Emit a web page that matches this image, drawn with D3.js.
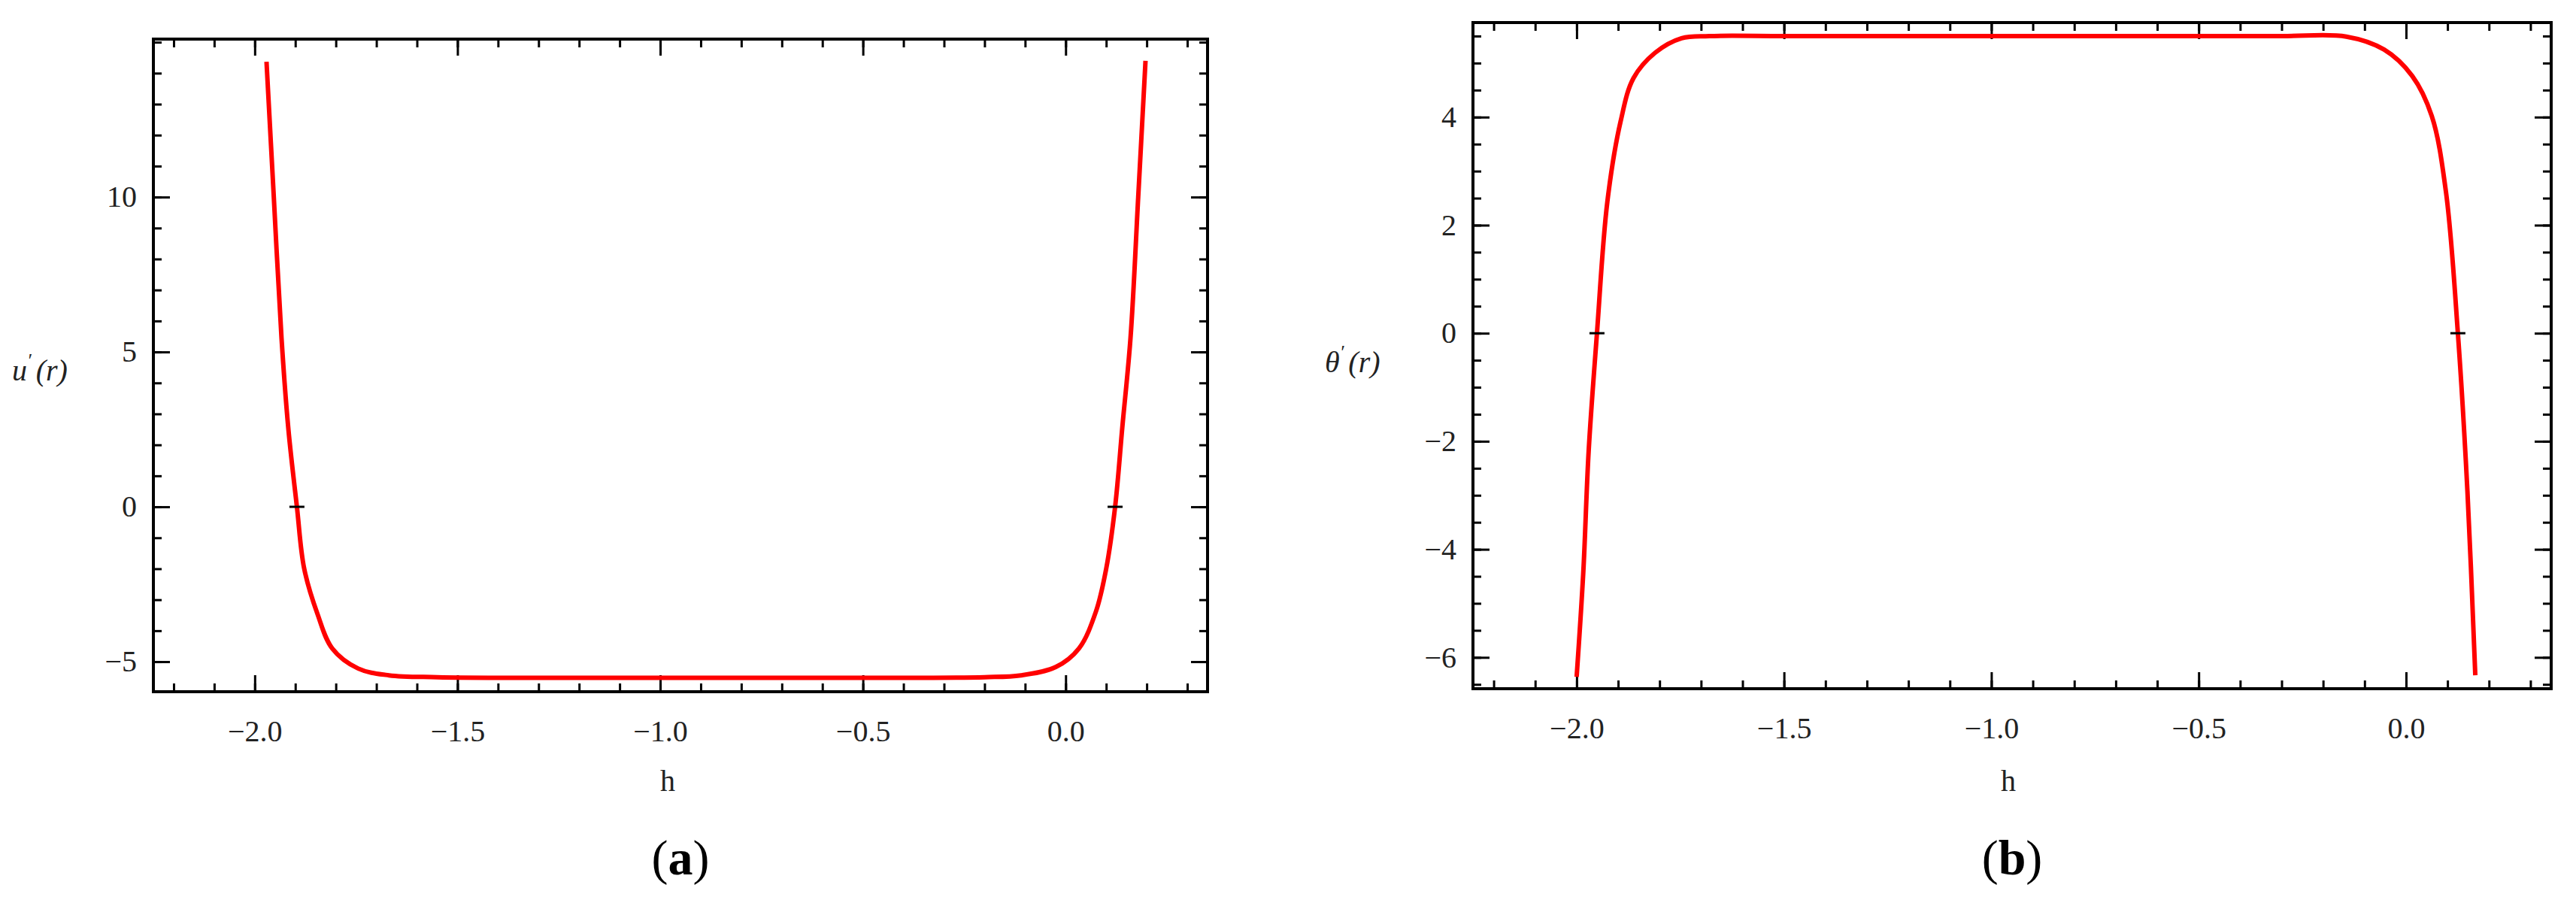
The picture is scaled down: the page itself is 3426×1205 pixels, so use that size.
<!DOCTYPE html>
<html>
<head>
<meta charset="utf-8">
<script src="https://cdn.jsdelivr.net/npm/d3@7"></script>
<style>
  body { margin: 0; background: #fff; }
  text { font-family: "Liberation Serif", serif; }
</style>
</head>
<body>
<svg id="chart" width="3426" height="1205"></svg>
<script>
// values
let xDomain = [-2.25, 0.35]
let xTicks = [-2.0, -1.5, -1.0, -0.5, 0.0]

let aX = [-1.971, -1.953, -1.934, -1.917, -1.896, -1.878, -1.845, -1.809, -1.745, -1.669, -1.55, -1.3, -1.0, -0.7, -0.4, -0.2, -0.11, -0.024, 0.033, 0.075, 0.1, 0.122, 0.14, 0.16, 0.179, 0.197]
let aY = [14.37, 10.0, 5.45, 2.5, 0, -2.0, -3.47, -4.57, -5.22, -5.44, -5.5, -5.52, -5.52, -5.52, -5.52, -5.5, -5.44, -5.17, -4.57, -3.37, -2.0, 0, 2.6, 5.45, 10.0, 14.4]
let aYTicks = [-5, 0, 5, 10]
let aYDomain = [-5.97, 15.1]
let aZeros = [-1.896, 0.122]

let bX = [-2.0, -1.984, -1.971, -1.951, -1.926, -1.894, -1.863, -1.811, -1.747, -1.68, -1.5, -1.2, -0.9, -0.6, -0.3, -0.144, -0.053, 0.015, 0.062, 0.096, 0.125, 0.148, 0.167]
let bY = [-6.36, -4.43, -2.18, 0, 2.43, 3.92, 4.72, 5.19, 5.46, 5.5, 5.5, 5.5, 5.5, 5.5, 5.5, 5.49, 5.25, 4.76, 4.02, 2.63, 0, -2.92, -6.33]
let bYTicks = [-6, -4, -2, 0, 2, 4]
let bYDomain = [-6.58, 5.75]
let bZeros = [-1.951, 0.125]

let svg = d3.select("#chart")

function drawPanel(p){
  let x = d3.scaleLinear().domain(xDomain).range([p.left, p.right])
  let y = d3.scaleLinear().domain(p.yDomain).range([p.bottom, p.top])
  let g = svg.append("g")

  let xMinor = d3.range(-2.2, 0.35, 0.1).map(d => +d.toFixed(2))
  let yMinor = d3.range(Math.ceil(p.yDomain[0] / p.yMinorStep) * p.yMinorStep, p.yDomain[1], p.yMinorStep)

  function ticks(axisFn, scale, vals, size, transform){
    let ax = axisFn(scale).tickValues(vals).tickSizeInner(-size).tickSizeOuter(0)
      .tickPadding(size + 16).tickFormat("")
    let s = g.append("g").attr("transform", transform).call(ax)
    s.select(".domain").remove()
    s.selectAll("line").attr("stroke", "#000").attr("stroke-width", 3)
    return s
  }
  let fx = d => d.toFixed(1).replace("-", "\u2212")
  let fy = d => String(d).replace("-", "\u2212")

  // bottom / top
  ticks(d3.axisBottom, x, xMinor, 11, `translate(0,${p.bottom})`)
  let bx = ticks(d3.axisBottom, x, xTicks, 22, `translate(0,${p.bottom})`)
  bx.selectAll("text").text(fx).attr("font-size", 40).attr("fill", "#222")
  ticks(d3.axisTop, x, xMinor, 11, `translate(0,${p.top})`)
  ticks(d3.axisTop, x, xTicks, 22, `translate(0,${p.top})`)
  // left / right
  ticks(d3.axisLeft, y, yMinor, 11, `translate(${p.left},0)`)
  let ly = ticks(d3.axisLeft, y, p.yTicks, 22, `translate(${p.left},0)`)
  ly.selectAll("text").text(fy).attr("font-size", 40).attr("fill", "#222").attr("dx", 16)
  ticks(d3.axisRight, y, yMinor, 11, `translate(${p.right},0)`)
  ticks(d3.axisRight, y, p.yTicks, 22, `translate(${p.right},0)`)

  g.append("rect").attr("x", p.left).attr("y", p.top)
    .attr("width", p.right - p.left).attr("height", p.bottom - p.top)
    .attr("fill", "none").attr("stroke", "#000").attr("stroke-width", 4)

  let line = d3.line().x(d => x(d[0])).y(d => y(d[1])).curve(d3.curveCatmullRom.alpha(0.5))
  g.append("path").datum(d3.zip(p.xs, p.ys)).attr("d", line)
    .attr("fill", "none").attr("stroke", "#ff0000").attr("stroke-width", 6)

  // small marks where the curve crosses zero
  g.selectAll(".zero").data(p.zeros).enter().append("line")
    .attr("x1", d => x(d) - 10).attr("x2", d => x(d) + 10)
    .attr("y1", y(0)).attr("y2", y(0))
    .attr("stroke", "#000").attr("stroke-width", 3)

  // axis labels
  let yl = g.append("text").attr("x", p.yLabelX).attr("y", y(0) - p.yLabelUp)
    .attr("font-size", 40).attr("font-style", "italic").attr("fill", "#222")
  yl.append("tspan").text(p.sym)
  yl.append("tspan").text("\u2032").attr("font-size", 26).attr("dy", -18)
  yl.append("tspan").text("(r)").attr("dy", 18).attr("dx", 6)

  g.append("text").attr("x", (p.left + p.right) / 2 + p.hShift).attr("y", 1052)
    .attr("font-size", 40).attr("text-anchor", "middle").attr("fill", "#222").text("h")

  let cap = g.append("text").attr("x", (p.left + p.right) / 2).attr("y", 1163)
    .attr("font-size", 66).attr("text-anchor", "middle").attr("fill", "#000")
  cap.append("tspan").text("(")
  cap.append("tspan").text(p.tag).attr("font-weight", "bold")
  cap.append("tspan").text(")")
}

drawPanel({left: 204, right: 1606, top: 52, bottom: 920, yDomain: aYDomain, yTicks: aYTicks, yMinorStep: 1,
  xs: aX, ys: aY, zeros: aZeros, sym: "u", yLabelX: 16, yLabelUp: 168, hShift: -17, tag: "a"})
drawPanel({left: 1959, right: 3393, top: 30, bottom: 916, yDomain: bYDomain, yTicks: bYTicks, yMinorStep: 0.5,
  xs: bX, ys: bY, zeros: bZeros, sym: "\u03b8", yLabelX: 1762, yLabelUp: -52, hShift: -5, tag: "b"})
</script>
</body>
</html>
